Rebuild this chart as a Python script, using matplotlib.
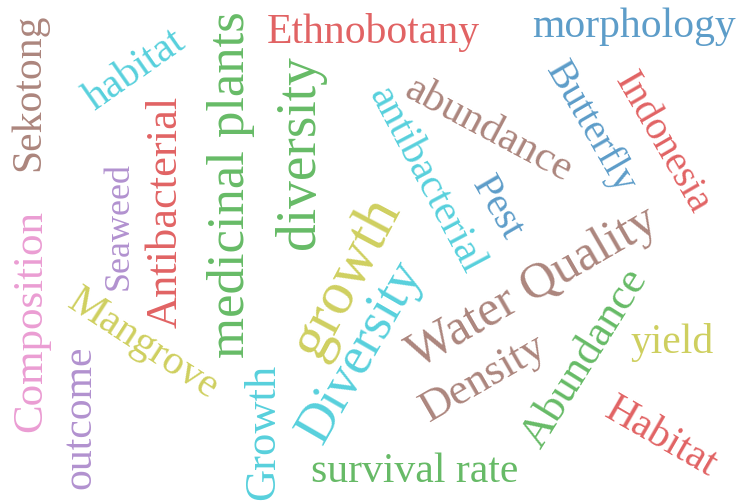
import matplotlib
matplotlib.use("Agg")
import matplotlib.pyplot as plt

# words, their tab10 colour names, sizes (pt), rotation (deg), centre (px)
words = ["Sekotong", "habitat", "Ethnobotany", "morphology", "medicinal plants",
         "diversity", "Antibacterial", "Seaweed", "antibacterial", "abundance",
         "Butterfly", "Indonesia", "Pest", "Composition", "outcome", "Mangrove",
         "growth", "Diversity", "Growth", "Water Quality", "Density", "Abundance",
         "yield", "Habitat", "survival rate"]
colors = ["brown", "cyan", "red", "blue", "green",
          "green", "red", "purple", "cyan", "brown",
          "blue", "red", "blue", "pink", "purple", "olive",
          "olive", "cyan", "cyan", "brown", "brown", "green",
          "olive", "red", "green"]
sizes = [30, 30, 30, 30, 38,
         40, 32, 26, 30, 31,
         29, 29, 29, 31, 30, 30,
         44, 39, 32, 36, 32, 32,
         30, 30, 30]
angles = [90, 35, 0, 0, 90,
          90, 90, 90, -62, -28,
          -60, -60, -60, 90, 90, -33,
          62, 60, 90, 30, 30, 58,
          0, -30, 0]
xs = [29, 135, 373, 634, 231,
      300, 166, 119, 426, 488,
      590, 662, 497, 31, 80, 143,
      347, 361, 263, 533, 484, 585,
      672, 661, 415]
ys = [92, 70, 32, 27, 185,
      152, 212, 226, 180, 130,
      128, 143, 208, 321, 417, 345,
      278, 352, 432, 288, 378, 358,
      343, 438, 472]

fig = plt.figure(figsize=(7.41, 5.04), dpi=100)
ax = fig.add_axes([0, 0, 1, 1])
ax.set_xlim(0, 741)
ax.set_ylim(504, 0)
ax.axis("off")

for w, c, s, a, x, y in zip(words, colors, sizes, angles, xs, ys):
    ax.text(x, y, w, color="tab:" + c, alpha=0.72, fontsize=s, rotation=a,
            rotation_mode="anchor", ha="center", va="center",
            family="Liberation Serif")

fig.savefig("out.png", dpi=100, facecolor="white")
